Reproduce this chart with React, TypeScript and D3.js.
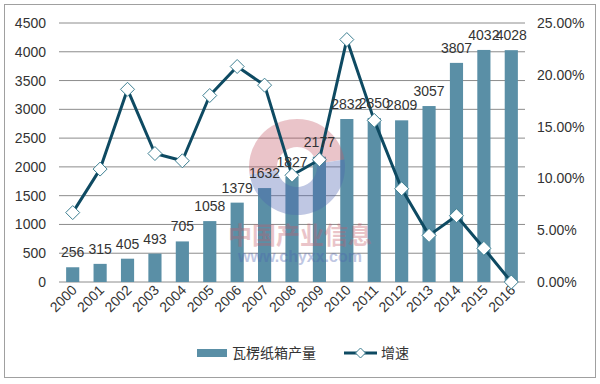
import React from "react";
import * as d3 from "d3";

const years = ["2000","2001","2002","2003","2004","2005","2006","2007","2008","2009","2010","2011","2012","2013","2014","2015","2016"];
const production = [256,315,405,493,705,1058,1379,1632,1827,2177,2832,2850,2809,3057,3807,4032,4028];
const growth = [6.7,10.9,18.6,12.4,11.7,18.0,20.8,19.0,10.3,11.8,23.4,15.6,9.0,4.5,6.4,3.25,0.0];
const leftTicks = [0,500,1000,1500,2000,2500,3000,3500,4000,4500];
const rightTicks = [0,5,10,15,20,25];
const legendBar = "瓦楞纸箱产量";
const legendLine = "增速";

const W = 600, H = 384;
const M = { left: 59, right: 525, top: 23, bottom: 282 };
const font = "'Liberation Sans', Arial, sans-serif";
const cjk = "'Noto Sans CJK SC', 'Microsoft YaHei', sans-serif";
const barColor = "#5a8fa6";
const lineColor = "#0e4a62";

export default function App() {
  const x = d3.scaleBand<string>().domain(years).range([M.left, M.right]).paddingInner(0.52).paddingOuter(0.26);
  const y = d3.scaleLinear().domain([0, 4500]).range([M.bottom, M.top]);
  const y2 = d3.scaleLinear().domain([0, 25]).range([M.bottom, M.top]);
  const cx = (yr: string) => (x(yr) as number) + x.bandwidth() / 2;
  const line = d3.line<number>().x((_, i) => cx(years[i])).y((v) => y2(v));
  const diamond = (px: number, py: number, r: number) => `M${px},${py - r}L${px + r},${py}L${px},${py + r}L${px - r},${py}Z`;

  const wcx = 297, wcy = 167, wr = 48;
  const arcTop = d3.arc()({ innerRadius: 20, outerRadius: wr, startAngle: -Math.PI * 0.55, endAngle: Math.PI * 0.45 }) as string;
  const arcBot = d3.arc()({ innerRadius: 20, outerRadius: wr, startAngle: Math.PI * 0.45, endAngle: Math.PI * 1.45 }) as string;

  return (
    <div style={{ position: "absolute", left: 0, top: 0 }}>
      <svg width={W} height={H} style={{ display: "block" }}>
        <rect x={0} y={0} width={W} height={H} fill="#fff" />
        <rect x={4.5} y={4.5} width={591} height={373} fill="#fff" stroke="#a0a0a0" strokeWidth={1} />
        {leftTicks.map((t) => (
          <line key={t} x1={M.left} x2={M.right} y1={y(t)} y2={y(t)} stroke="#8c8c8c" strokeWidth={1} />
        ))}
        {production.map((v, i) => (
          <rect key={years[i]} x={x(years[i])} y={y(v)} width={x.bandwidth()} height={M.bottom - y(v)} fill={barColor} />
        ))}
        <g transform={`translate(${wcx},${wcy})`} opacity={0.35}>
          <path d={arcTop} fill="#c45a68" />
          <path d={arcBot} fill="#4b62b0" />
        </g>
        <text x={300} y={244} textAnchor="middle" fontFamily={cjk} fontWeight="bold" fontSize={24} fill="#c45a68" opacity={0.35}>中国产业信息</text>
        <text x={300} y={262} textAnchor="middle" fontFamily={font} fontWeight="bold" fontSize={16} fill="#4b62b0" opacity={0.35}>www.chyxx.com</text>
        {leftTicks.map((t) => (
          <text key={t} x={46} y={y(t) + 5} textAnchor="end" fontFamily={font} fontSize={14} fill="#333">{t}</text>
        ))}
        {rightTicks.map((t) => (
          <text key={t} x={537} y={y2(t) + 5} textAnchor="start" fontFamily={font} fontSize={14} fill="#333">{t.toFixed(2) + "%"}</text>
        ))}
        {years.map((yr) => (
          <text key={yr} transform={`translate(${cx(yr) + 5},${291}) rotate(-45)`} textAnchor="end" fontFamily={font} fontSize={14} fill="#333">{yr}</text>
        ))}
        <path d={line(growth) as string} fill="none" stroke={lineColor} strokeWidth={3} strokeLinejoin="round" />
        {growth.map((v, i) => (
          <path key={years[i]} d={diamond(cx(years[i]), y2(v), 7)} fill="#fff" stroke="#3d7f92" strokeWidth={1} />
        ))}
        {production.map((v, i) => (
          <text key={years[i]} x={cx(years[i])} y={y(v) - 10} textAnchor="middle" fontFamily={font} fontSize={14} fill="#333">{v}</text>
        ))}
        <rect x={197} y={349} width={30} height={8} fill={barColor} />
        <text x={232} y={358} fontFamily={cjk} fontSize={14} fill="#333">{legendBar}</text>
        <line x1={344} x2={377} y1={353} y2={353} stroke={lineColor} strokeWidth={3} />
        <path d={diamond(360.5, 353, 5)} fill="#fff" stroke="#3d7f92" strokeWidth={1} />
        <text x={381} y={358} fontFamily={cjk} fontSize={14} fill="#333">{legendLine}</text>
      </svg>
    </div>
  );
}
